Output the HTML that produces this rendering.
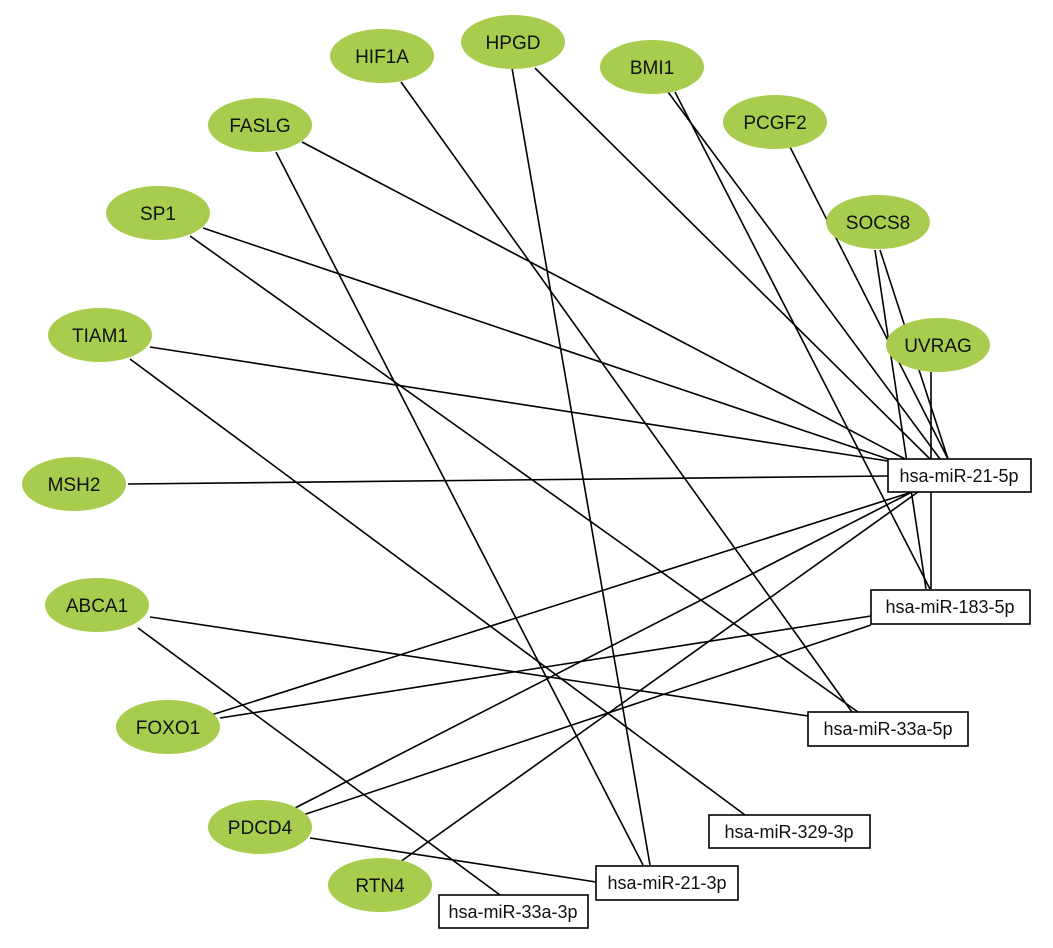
<!DOCTYPE html>
<html><head><meta charset="utf-8"><style>
html,body{margin:0;padding:0;background:#fff;}
svg{display:block;}
text{font-family:"Liberation Sans",sans-serif;font-size:19px;fill:#111;}
</style></head><body>
<svg width="1053" height="948" viewBox="0 0 1053 948" xmlns="http://www.w3.org/2000/svg">
<g stroke="#000" stroke-width="1.6" fill="none">
<line x1="401" y1="82" x2="852" y2="712"/>
<line x1="512" y1="68" x2="650" y2="865"/>
<line x1="535" y1="68" x2="930" y2="459"/>
<line x1="668" y1="92" x2="940" y2="459"/>
<line x1="675" y1="92" x2="930" y2="589"/>
<line x1="790" y1="147" x2="948" y2="459"/>
<line x1="875" y1="250" x2="926" y2="589"/>
<line x1="880" y1="250" x2="948" y2="459"/>
<line x1="931" y1="372" x2="931" y2="589"/>
<line x1="302" y1="142" x2="905" y2="459"/>
<line x1="276" y1="152" x2="643" y2="865"/>
<line x1="203" y1="228" x2="888" y2="459"/>
<line x1="190" y1="236" x2="858" y2="712"/>
<line x1="150" y1="347" x2="888" y2="461"/>
<line x1="130" y1="359" x2="745" y2="815"/>
<line x1="128" y1="484" x2="888" y2="476"/>
<line x1="150" y1="617" x2="808" y2="716"/>
<line x1="138" y1="628" x2="500" y2="895"/>
<line x1="208" y1="716" x2="912" y2="492"/>
<line x1="220" y1="718" x2="871" y2="616"/>
<line x1="295" y1="808" x2="912" y2="492"/>
<line x1="303" y1="815" x2="871" y2="625"/>
<line x1="310" y1="838" x2="596" y2="882"/>
<line x1="400" y1="862" x2="918" y2="492"/>
</g>
<g fill="#a8cd4e">
<ellipse cx="382" cy="56" rx="52" ry="27"/>
<ellipse cx="513" cy="42" rx="52" ry="27"/>
<ellipse cx="652" cy="67" rx="52" ry="27"/>
<ellipse cx="775" cy="122" rx="52" ry="27"/>
<ellipse cx="878" cy="222" rx="52" ry="27"/>
<ellipse cx="938" cy="345" rx="52" ry="27"/>
<ellipse cx="260" cy="125" rx="52" ry="27"/>
<ellipse cx="158" cy="213" rx="52" ry="27"/>
<ellipse cx="100" cy="335" rx="52" ry="27"/>
<ellipse cx="74" cy="484" rx="52" ry="27"/>
<ellipse cx="97" cy="605" rx="52" ry="27"/>
<ellipse cx="168" cy="727" rx="52" ry="27"/>
<ellipse cx="260" cy="827" rx="52" ry="27"/>
<ellipse cx="380" cy="885" rx="52" ry="27"/>
</g>
<g text-anchor="middle">
<text x="382" y="63">HIF1A</text>
<text x="513" y="49">HPGD</text>
<text x="652" y="74">BMI1</text>
<text x="775" y="129">PCGF2</text>
<text x="878" y="229">SOCS8</text>
<text x="938" y="352">UVRAG</text>
<text x="260" y="132">FASLG</text>
<text x="158" y="220">SP1</text>
<text x="100" y="342">TIAM1</text>
<text x="74" y="491">MSH2</text>
<text x="97" y="612">ABCA1</text>
<text x="168" y="734">FOXO1</text>
<text x="260" y="834">PDCD4</text>
<text x="380" y="892">RTN4</text>
</g>
<g fill="#fff" stroke="#000" stroke-width="1.6">
<rect x="888" y="459" width="143" height="33"/>
<rect x="871" y="590" width="159" height="34"/>
<rect x="808" y="712" width="160" height="34"/>
<rect x="709" y="815" width="161" height="33"/>
<rect x="596" y="866" width="142" height="34"/>
<rect x="439" y="895" width="149" height="33"/>
</g>
<g text-anchor="middle" style="font-size:18px">
<text x="959" y="482" style="font-size:18px">hsa-miR-21-5p</text>
<text x="950" y="613" style="font-size:18px">hsa-miR-183-5p</text>
<text x="888" y="735" style="font-size:18px">hsa-miR-33a-5p</text>
<text x="789" y="838" style="font-size:18px">hsa-miR-329-3p</text>
<text x="667" y="889" style="font-size:18px">hsa-miR-21-3p</text>
<text x="513" y="918" style="font-size:18px">hsa-miR-33a-3p</text>
</g>
</svg>
</body></html>
